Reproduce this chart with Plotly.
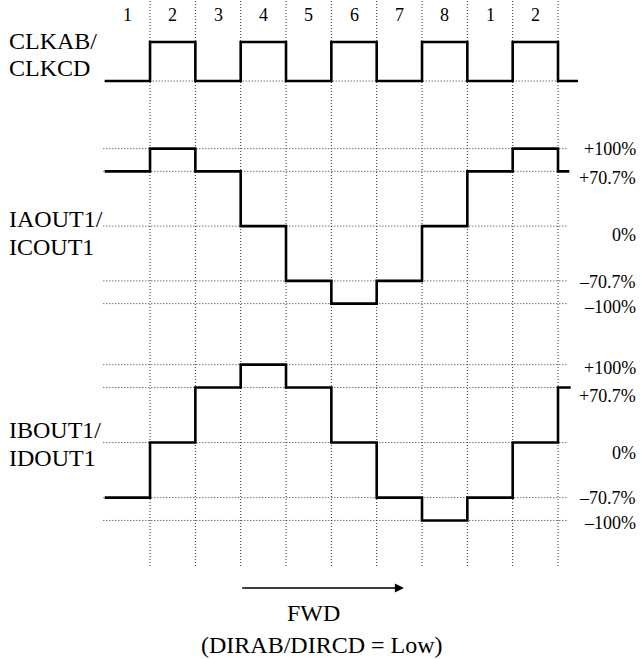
import plotly.graph_objects as go

# ---- data ----
boundaries = list(range(11))                 # slot boundaries (0..10)
phase_labels = ["1", "2", "3", "4", "5", "6", "7", "8", "1", "2"]
clk = [0, 1, 0, 1, 0, 1, 0, 1, 0, 1, 0]
ia = [70.7, 100, 70.7, 0, -70.7, -100, -70.7, 0, 70.7, 100, 70.7]
ib = [-70.7, 0, 70.7, 100, 70.7, 0, -70.7, -100, -70.7, 0, 70.7]
levels = [100, 70.7, 0, -70.7, -100]
level_labels = ["+100%", "+70.7%", "0%", "–70.7%", "–100%"]
clk_end = 10.44
ia_end = 10.25
ib_end = 10.28

W, H = 641, 659
FONT = "Liberation Serif, Times New Roman, serif"


def py(px):
    return 1 - px / H


fig = go.Figure()

line_style = dict(color="black", width=2.6, shape="hv")
fig.add_trace(go.Scatter(x=boundaries + [clk_end], y=clk + [clk[-1]], mode="lines",
                         line=line_style, yaxis="y", hoverinfo="skip"))
fig.add_trace(go.Scatter(x=boundaries + [ia_end], y=ia + [ia[-1]], mode="lines",
                         line=line_style, yaxis="y2", hoverinfo="skip"))
fig.add_trace(go.Scatter(x=boundaries + [ib_end], y=ib + [ib[-1]], mode="lines",
                         line=line_style, yaxis="y3", hoverinfo="skip"))

shapes = []
grid = dict(color="#333", width=1, dash="1px,2px")
# vertical phase boundaries
for b in boundaries[1:]:
    shapes.append(dict(type="line", xref="x", yref="paper", x0=b, x1=b,
                       y0=py(566), y1=1, line=grid, layer="below"))
# horizontal level lines
shapes.append(dict(type="line", xref="x", yref="y", x0=0, x1=clk_end, y0=0, y1=0,
                   line=grid, layer="below"))
for ax in ("y2", "y3"):
    for lv in levels:
        shapes.append(dict(type="line", xref="x", yref=ax, x0=-0.03, x1=10.22,
                           y0=lv, y1=lv, line=grid, layer="below"))

ann = []
# phase numbers
for i, t in enumerate(phase_labels):
    ann.append(dict(x=boundaries[i] + 0.5, y=py(15), xref="x", yref="paper", text=t,
                    xanchor="center", yanchor="middle", showarrow=False,
                    font=dict(family=FONT, size=18, color="black")))
# left labels
for txt, y in [("CLKAB/", 41), ("CLKCD", 68), ("IAOUT1/", 219), ("ICOUT1", 247),
               ("IBOUT1/", 430), ("IDOUT1", 458)]:
    ann.append(dict(x=7 / W, y=py(y), xref="paper", yref="paper", text=txt,
                    xanchor="left", yanchor="middle", showarrow=False,
                    font=dict(family=FONT, size=24, color="black")))
# right level labels
ia_shift = [0, -7, -9, -1, -3]
ib_shift = [-3, -9, -10, 0, -3]
for ax, shifts in (("y2", ia_shift), ("y3", ib_shift)):
    for lv, lab, s in zip(levels, level_labels, shifts):
        ann.append(dict(x=638 / W, y=lv, xref="paper", yref=ax, text=lab, yshift=s,
                        xanchor="right", yanchor="middle", showarrow=False,
                        font=dict(family=FONT, size=18, color="black")))
# direction arrow
ann.append(dict(x=6.6, y=py(588), xref="x", yref="paper", ax=3, axref="x", ay=0,
                ayref="pixel", text="", showarrow=True, arrowhead=2, arrowsize=1.2,
                arrowwidth=1.5, arrowcolor="black"))
ann.append(dict(x=313 / W, y=py(613), xref="paper", yref="paper", text="FWD",
                xanchor="center", yanchor="middle", showarrow=False,
                font=dict(family=FONT, size=24, color="black")))
ann.append(dict(x=322 / W, y=py(645), xref="paper", yref="paper",
                text="(DIRAB/DIRCD = Low)", xanchor="center", yanchor="middle",
                showarrow=False, font=dict(family=FONT, size=24, color="black")))

hidden = dict(visible=False, showgrid=False, zeroline=False, fixedrange=True)
fig.update_layout(
    width=W, height=H,
    margin=dict(l=0, r=0, t=0, b=0),
    paper_bgcolor="white", plot_bgcolor="white",
    showlegend=False,
    xaxis=dict(range=[-104.7 / 45.33, (W - 104.7) / 45.33], **hidden),
    yaxis=dict(range=[-14.82, 2.077], **hidden),
    yaxis2=dict(range=[-558.6, 291.8], overlaying="y", **hidden),
    yaxis3=dict(range=[-277.9, 568.2], overlaying="y", **hidden),
    shapes=shapes,
    annotations=ann,
)

fig.write_html("out.html", config={"displayModeBar": False},
               post_script="document.body.style.margin='0';")
